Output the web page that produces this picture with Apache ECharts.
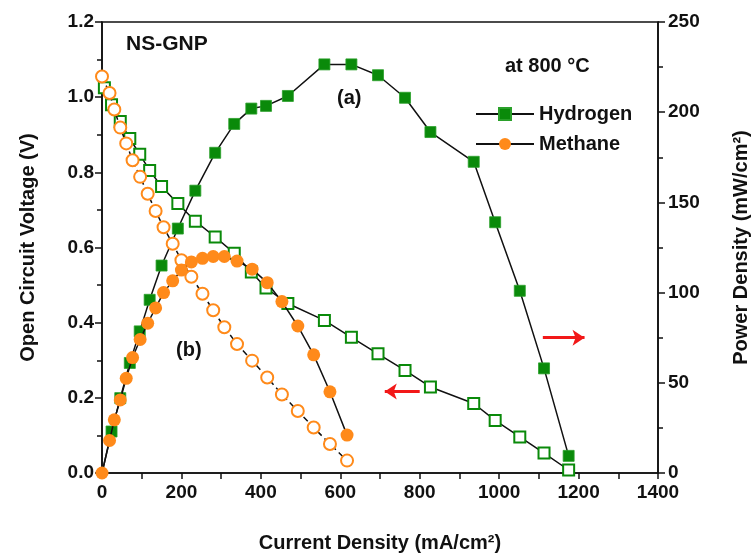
<!DOCTYPE html>
<html>
<head>
<meta charset="utf-8">
<script src="https://cdn.jsdelivr.net/npm/echarts@6/dist/echarts.min.js"></script>
<style>html,body{margin:0;padding:0;background:#fff;}#chart{width:752px;height:555px;}</style>
</head>
<body>
<div id="chart"></div>
<script>
// Hydrogen
const h2Current = [6, 24, 46, 70, 95, 120, 150, 191, 235, 285, 333, 376, 413, 468, 560, 628, 695, 763, 827, 936, 990, 1052, 1113, 1175];
const h2Voltage = [1.025, 0.980, 0.935, 0.890, 0.848, 0.805, 0.762, 0.717, 0.670, 0.628, 0.585, 0.535, 0.492, 0.451, 0.406, 0.361, 0.317, 0.273, 0.229, 0.185, 0.140, 0.096, 0.053, 0.008];
const h2PowerCurrent = [0, 24, 46, 70, 95, 120, 150, 191, 235, 285, 333, 376, 413, 468, 560, 628, 695, 763, 827, 936, 990, 1052, 1113, 1175];
const h2Power = [0, 23, 41.5, 61, 78.5, 96, 115, 135.5, 156.5, 177.5, 193.5, 202, 203.5, 209, 226.5, 226.5, 220.5, 208, 189, 172.5, 139, 101, 58, 9.5];
// Methane
const ch4Current = [0, 19, 31, 46, 61, 77, 96, 115, 135, 155, 178, 200, 225, 253, 280, 308, 340, 378, 416, 453, 493, 533, 574, 617];
const ch4Voltage = [1.055, 1.011, 0.967, 0.919, 0.877, 0.832, 0.788, 0.743, 0.697, 0.654, 0.610, 0.566, 0.522, 0.477, 0.433, 0.388, 0.343, 0.299, 0.254, 0.209, 0.165, 0.121, 0.077, 0.033];
const ch4Power = [0, 18, 29.5, 40.5, 52.5, 64, 74, 83, 91.5, 100, 106.5, 112.5, 117, 119, 120, 120, 117.5, 113, 105.5, 95, 81.5, 65.5, 45, 21];
// Axis ticks
const xTicks = [0, 200, 400, 600, 800, 1000, 1200, 1400];
const vTicks = [0.0, 0.2, 0.4, 0.6, 0.8, 1.0, 1.2];
const pTicks = [0, 50, 100, 150, 200, 250];

const zip = (a, b) => a.map((v, i) => [v, b[i]]);
const GREEN = '#0a8a0a';
const ORANGE = '#ff8a1a';
const FONT = 'Liberation Sans, Arial, sans-serif';

const chart = echarts.init(document.getElementById('chart'));
const axisLabelCommon = { color: '#111', fontFamily: FONT, fontWeight: 'bold', fontSize: 19 };
const axisLineCommon = { show: true, lineStyle: { color: '#111', width: 1.6 } };

chart.setOption({
  backgroundColor: '#fff',
  animation: false,
  grid: { left: 102, right: 94, top: 22, bottom: 82, containLabel: false, outerBoundsMode: 'none', show: true, borderColor: '#111', borderWidth: 1.6, backgroundColor: 'transparent' },
  legend: {
    data: ['Hydrogen', 'Methane'],
    left: 470, top: 99, orient: 'vertical',
    itemWidth: 58, itemHeight: 15, itemGap: 10,
    textStyle: { fontFamily: FONT, fontWeight: 'bold', fontSize: 20, color: '#111' }
  },
  xAxis: {
    type: 'value', min: xTicks[0], max: xTicks[xTicks.length - 1], interval: 200,
    name: 'Current Density (mA/cm²)', nameLocation: 'middle', nameGap: 60,
    nameTextStyle: { fontFamily: FONT, fontWeight: 'bold', fontSize: 20, color: '#111' },
    axisLine: axisLineCommon,
    axisTick: { show: true, length: 6, lineStyle: { color: '#111', width: 1.5 } },
    minorTick: { show: true, splitNumber: 2, length: 6, lineStyle: { color: '#111', width: 1.5 } },
    axisLabel: Object.assign({ margin: 10, formatter: v => String(v) }, axisLabelCommon),
    splitLine: { show: false }
  },
  yAxis: [
    {
      type: 'value', min: vTicks[0], max: vTicks[vTicks.length - 1], interval: 0.2, position: 'left',
      name: 'Open Circuit Voltage (V)', nameLocation: 'middle', nameGap: 64, nameRotate: 90,
      nameTextStyle: { fontFamily: FONT, fontWeight: 'bold', fontSize: 20, color: '#111' },
      axisLine: axisLineCommon,
      axisTick: { show: true, length: 7, lineStyle: { color: '#111', width: 1.5 } },
      minorTick: { show: true, splitNumber: 2, length: 5, lineStyle: { color: '#111', width: 1.5 } },
      axisLabel: Object.assign({ margin: 8, formatter: v => v.toFixed(1) }, axisLabelCommon),
      splitLine: { show: false }
    },
    {
      type: 'value', min: pTicks[0], max: pTicks[pTicks.length - 1], interval: 50, position: 'right',
      name: 'Power Density (mW/cm²)', nameLocation: 'middle', nameGap: 73, nameRotate: 90,
      nameTextStyle: { fontFamily: FONT, fontWeight: 'bold', fontSize: 20, color: '#111' },
      axisLine: axisLineCommon,
      axisTick: { show: true, length: 7, lineStyle: { color: '#111', width: 1.5 } },
      minorTick: { show: true, splitNumber: 2, length: 5, lineStyle: { color: '#111', width: 1.5 } },
      axisLabel: Object.assign({ margin: 10 }, axisLabelCommon),
      splitLine: { show: false }
    }
  ],
  series: [
    {
      name: 'Hydrogen OCV', type: 'line', yAxisIndex: 0, data: zip(h2Current, h2Voltage),
      symbol: 'emptyRect', symbolSize: 11, showAllSymbol: true,
      lineStyle: { color: '#111', width: 1.5 },
      itemStyle: { color: GREEN, borderColor: GREEN, borderWidth: 2 }, z: 2
    },
    {
      name: 'Hydrogen', type: 'line', yAxisIndex: 1,
      data: zip(h2PowerCurrent, h2Power).map((d, i) => i === 0 ? { value: d, symbolSize: 0 } : d),
      symbol: 'rect', symbolSize: 11, showAllSymbol: true,
      lineStyle: { color: '#111', width: 1.5 },
      itemStyle: { color: GREEN, borderColor: '#2aa02a', borderWidth: 0.8 }, z: 3,
      markLine: {
        silent: true, symbol: ['none', 'arrow'], symbolSize: [12, 12],
        label: { show: false },
        lineStyle: { color: '#f21818', width: 3, type: 'solid' },
        data: [[{ coord: [1110, 75] }, { coord: [1215, 75] }]]
      }
    },
    {
      name: 'Methane OCV', type: 'line', yAxisIndex: 0, data: zip(ch4Current, ch4Voltage),
      symbol: 'emptyCircle', symbolSize: 12, showAllSymbol: true,
      lineStyle: { color: '#111', width: 1.5, type: [6, 4] },
      itemStyle: { color: ORANGE, borderColor: ORANGE, borderWidth: 2 }, z: 4,
      markLine: {
        silent: true, symbol: ['none', 'arrow'], symbolSize: [12, 12],
        label: { show: false },
        lineStyle: { color: '#f21818', width: 3, type: 'solid' },
        data: [[{ coord: [800, 0.217] }, { coord: [712, 0.217] }]]
      }
    },
    {
      name: 'Methane', type: 'line', yAxisIndex: 1, data: zip(ch4Current, ch4Power),
      symbol: 'circle', symbolSize: 13, showAllSymbol: true,
      lineStyle: { color: '#111', width: 1.5 },
      itemStyle: { color: ORANGE }, z: 5
    }
  ],
  graphic: [
    { type: 'text', left: 126, top: 34, style: { text: 'NS-GNP', font: 'bold 21px ' + FONT, fill: '#111' } },
    { type: 'text', left: 505, top: 56, style: { text: 'at 800 °C', font: 'bold 20px ' + FONT, fill: '#111' } },
    { type: 'text', left: 337, top: 88, style: { text: '(a)', font: 'bold 20px ' + FONT, fill: '#111' } },
    { type: 'text', left: 176, top: 340, style: { text: '(b)', font: 'bold 20px ' + FONT, fill: '#111' } }
  ]
});
</script>
</body>
</html>
